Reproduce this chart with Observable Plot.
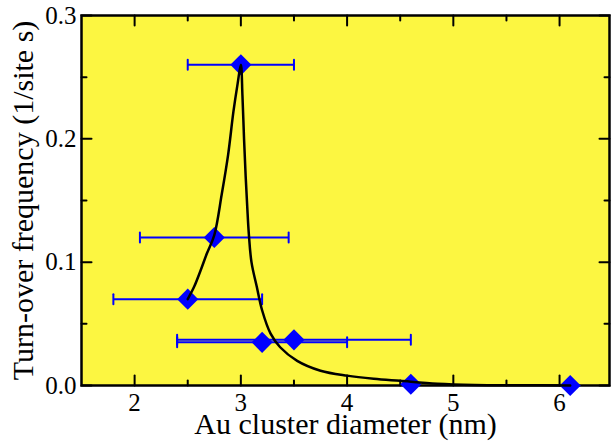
<!DOCTYPE html>
<html>
<head>
<meta charset="utf-8">
<script src="https://cdn.jsdelivr.net/npm/d3@7"></script>
<script src="https://cdn.jsdelivr.net/npm/@observablehq/plot@0.6"></script>
<style>
  body { margin: 0; background: #fff; }
  svg { display: block; }
</style>
</head>
<body>
<div id="chart"></div>
<script>
// Measured turn-over frequency vs. Au cluster diameter
const diameter = [2.5, 2.75, 3.0, 3.2, 3.5, 4.6, 6.1];
const tof = [0.070, 0.120, 0.260, 0.035, 0.037, 0.001, 0.000];
// horizontal error bars (diameter spread); last two points have none
const diameterLow = [1.8, 2.05, 2.5, 2.4, 2.4, null, null];
const diameterHigh = [3.2, 3.45, 3.5, 4.0, 4.6, null, null];

// guide curve through the measurements
const fitX = [2.5, 2.56, 2.62, 2.68, 2.75, 2.82, 2.88, 2.93, 2.97, 3.0,
              3.015, 3.03, 3.045, 3.06, 3.075, 3.1, 3.15, 3.2, 3.28, 3.37,
              3.53, 3.75, 4.0, 4.25, 4.5, 4.85, 5.2, 5.6, 6.1];
const fitY = [0.070, 0.080, 0.093, 0.107, 0.122, 0.155, 0.187, 0.222, 0.245, 0.260,
              0.235, 0.200, 0.170, 0.145, 0.123, 0.100, 0.080, 0.061, 0.042, 0.031,
              0.020, 0.012, 0.008, 0.0055, 0.0038, 0.0015, 0.0005, 0.0002, 0.0];

const xMajor = [2, 3, 4, 5, 6];
const xMinor = [2.5, 3.5, 4.5, 5.5];
const yMajor = [0, 0.1, 0.2, 0.3];
const yMinor = [0.05, 0.15, 0.25];
const yTickLabels = ["0.0", "0.1", "0.2", "0.3"];

const xTitle = "Au cluster diameter (nm)";
const yTitle = "Turn-over frequency (1/site s)";

const xDomain = [1.5, 6.47];
const yDomain = [0, 0.3];

const points = diameter.map((d, i) => ({x: d, y: tof[i], lo: diameterLow[i], hi: diameterHigh[i]}));
const bars = points.filter(p => p.lo != null);
const caps = bars.flatMap(p => [{x: p.lo, y: p.y}, {x: p.hi, y: p.y}]);
const fit = fitX.map((x, i) => ({x, y: fitY[i]}));

// a straight stroke used for error-bar caps and inward axis ticks
const stroke = {draw(context, l) { context.moveTo(0, 0); context.lineTo(0, -l); }};

const tickSet = (values, axis, pos, rotate, length) =>
  Plot.vector(values, {
    x: axis === "x" ? d => d : () => pos,
    y: axis === "y" ? d => d : () => pos,
    length, rotate, anchor: "start", shape: stroke,
    stroke: "black", strokeWidth: 2
  });

const blue = "#0000ff";

const chart = Plot.plot({
  width: 611,
  height: 441,
  marginLeft: 81,
  marginRight: 2,
  marginTop: 15,
  marginBottom: 56,
  style: {fontFamily: "'Liberation Serif', 'Times New Roman', serif", background: "white", color: "black"},
  x: {domain: xDomain},
  y: {domain: yDomain},
  marks: [
    Plot.frame({fill: "url(#dots)"}),
    // error bars
    Plot.link(bars, {x1: "lo", x2: "hi", y1: "y", y2: "y", stroke: blue, strokeWidth: 2}),
    Plot.vector(caps, {x: "x", y: "y", length: 10, rotate: 0, anchor: "middle", shape: stroke, stroke: blue, strokeWidth: 2}),
    // inward ticks on all four sides
    tickSet(xMajor, "x", yDomain[0], 0, 10),
    tickSet(xMinor, "x", yDomain[0], 0, 5),
    tickSet(xMajor, "x", yDomain[1], 180, 10),
    tickSet(xMinor, "x", yDomain[1], 180, 5),
    tickSet(yMajor, "y", xDomain[0], 90, 10),
    tickSet(yMinor, "y", xDomain[0], 90, 5),
    tickSet(yMajor, "y", xDomain[1], -90, 10),
    tickSet(yMinor, "y", xDomain[1], -90, 5),
    Plot.frame({stroke: "black", strokeWidth: 2.5}),
    Plot.dot(points, {x: "x", y: "y", symbol: "diamond2", r: 9.5, fill: blue, stroke: "none"}),
    Plot.line(fit, {x: "x", y: "y", curve: "catmull-rom", stroke: "black", strokeWidth: 2.5}),
    // tick labels
    Plot.axisX(xMajor, {tickSize: 0, tickPadding: 8, fontSize: 25, label: null}),
    Plot.axisY(yMajor, {tickSize: 0, tickPadding: 5, fontSize: 25, label: null,
      tickFormat: d => yTickLabels[yMajor.indexOf(d)]}),
    // axis titles
    Plot.text([xTitle], {text: d => d, frameAnchor: "bottom", dy: 39, lineAnchor: "middle", textAnchor: "middle", fontSize: 30}),
    Plot.text([yTitle], {text: d => d, frameAnchor: "left", dx: -58, rotate: -90, lineAnchor: "middle", textAnchor: "middle", fontSize: 30})
  ]
});

// dotted yellow fill for the plotting area
const defs = d3.select(chart).insert("defs", ":first-child");
const pat = defs.append("pattern").attr("id", "dots").attr("patternUnits", "userSpaceOnUse")
  .attr("width", 2).attr("height", 2);
pat.append("rect").attr("width", 2).attr("height", 2).attr("fill", "#fbf414");
pat.append("rect").attr("width", 1).attr("height", 1).attr("fill", "#fffcc8");

document.getElementById("chart").appendChild(chart);
</script>
</body>
</html>
